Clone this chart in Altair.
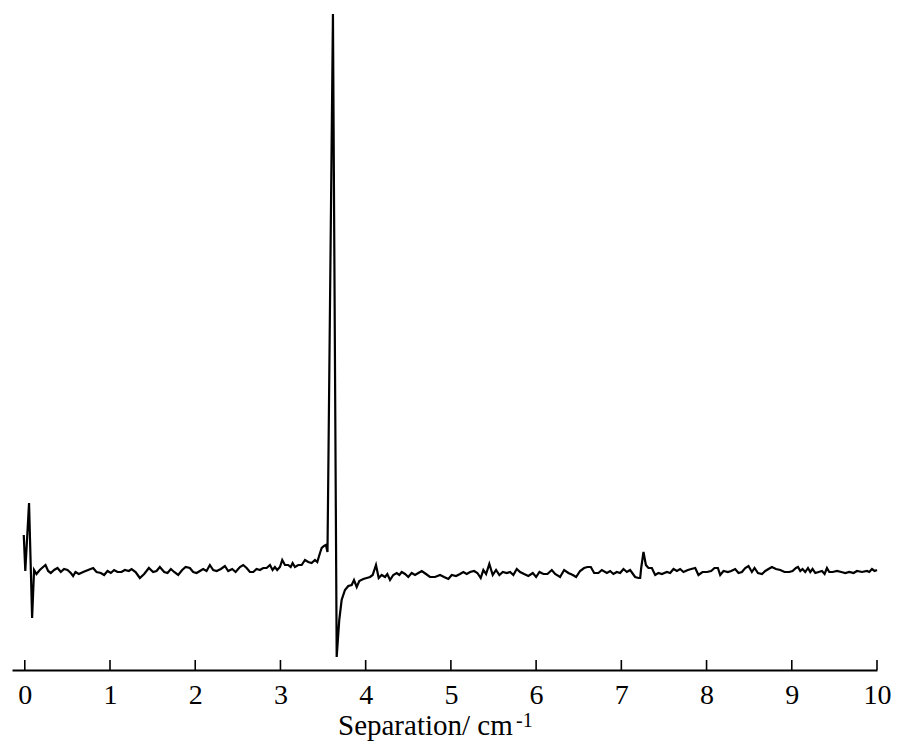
import altair as alt
import pandas as pd

# Separation (cm-1) and intensity (arbitrary units)
separation = [
    -0.012, 0.006, 0.050, 0.086, 0.109, 0.137, 0.176, 0.215, 0.243, 0.274,
    0.305, 0.344, 0.384, 0.423, 0.461, 0.501, 0.540, 0.567, 0.595, 0.634,
    0.685, 0.743, 0.802, 0.842, 0.892, 0.931, 0.971, 1.010, 1.048, 1.088,
    1.135, 1.174, 1.221, 1.253, 1.300, 1.350, 1.401, 1.456, 1.506, 1.546,
    1.585, 1.636, 1.675, 1.714, 1.753, 1.800, 1.847, 1.887, 1.937, 1.976,
    2.016, 2.055, 2.093, 2.133, 2.172, 2.211, 2.251, 2.301, 2.348, 2.387,
    2.434, 2.474, 2.524, 2.563, 2.603, 2.642, 2.681, 2.720, 2.759, 2.798,
    2.838, 2.877, 2.908, 2.935, 2.962, 2.994, 3.021, 3.053, 3.091, 3.120,
    3.143, 3.170, 3.209, 3.249, 3.288, 3.326, 3.366, 3.405, 3.432, 3.464,
    3.484, 3.511, 3.534, 3.552, 3.616, 3.660, 3.690, 3.718, 3.757, 3.796,
    3.836, 3.863, 3.895, 3.925, 3.972, 4.012, 4.051, 4.082, 4.121, 4.153,
    4.188, 4.227, 4.254, 4.286, 4.324, 4.364, 4.395, 4.423, 4.462, 4.500,
    4.540, 4.579, 4.618, 4.658, 4.708, 4.755, 4.814, 4.873, 4.920, 4.970,
    5.010, 5.060, 5.107, 5.146, 5.186, 5.225, 5.272, 5.311, 5.350, 5.381,
    5.413, 5.451, 5.491, 5.530, 5.569, 5.609, 5.656, 5.694, 5.733, 5.773,
    5.812, 5.859, 5.909, 5.961, 6.000, 6.039, 6.085, 6.133, 6.184, 6.223,
    6.281, 6.329, 6.379, 6.431, 6.469, 6.516, 6.563, 6.602, 6.642, 6.681,
    6.731, 6.771, 6.830, 6.869, 6.907, 6.947, 6.986, 7.025, 7.065, 7.103,
    7.162, 7.201, 7.221, 7.233, 7.260, 7.288, 7.318, 7.358, 7.397, 7.436,
    7.476, 7.534, 7.573, 7.612, 7.652, 7.690, 7.729, 7.781, 7.820, 7.867,
    7.905, 7.952, 8.004, 8.054, 8.093, 8.133, 8.160, 8.199, 8.250, 8.289,
    8.336, 8.375, 8.415, 8.454, 8.492, 8.532, 8.563, 8.603, 8.650, 8.689,
    8.727, 8.767, 8.814, 8.865, 8.915, 8.970, 9.009, 9.049, 9.073, 9.100,
    9.126, 9.158, 9.190, 9.217, 9.244, 9.276, 9.315, 9.354, 9.385, 9.413,
    9.440, 9.479, 9.531, 9.581, 9.628, 9.675, 9.725, 9.765, 9.824, 9.883,
    9.909, 9.941, 9.972, 10.000,
]
intensity = [
    135, 99, 167, 52, 100, 96, 100, 103, 105, 99,
    97, 100, 102, 98, 101, 100, 97, 94, 98, 96,
    98, 100, 102, 98, 97, 95, 99, 97, 100, 98,
    98, 100, 99, 101, 98, 92, 96, 102, 98, 99,
    103, 98, 97, 101, 98, 95, 100, 103, 102, 98,
    97, 99, 101, 99, 105, 100, 99, 101, 104, 99,
    101, 98, 103, 105, 102, 98, 98, 101, 100, 102,
    102, 105, 100, 103, 100, 103, 110, 105, 105, 103,
    107, 103, 105, 105, 110, 108, 107, 110, 108, 117,
    122, 124, 125, 118, 656, 13, 50, 70, 80, 84,
    85, 90, 83, 89, 91, 92, 93, 95, 105, 92,
    95, 93, 96, 90, 95, 97, 95, 98, 96, 93,
    97, 95, 97, 99, 96, 93, 93, 95, 93, 91,
    95, 94, 96, 98, 96, 98, 99, 97, 92, 100,
    96, 106, 95, 100, 95, 98, 97, 98, 95, 101,
    98, 96, 94, 97, 93, 98, 96, 96, 100, 96,
    93, 100, 97, 95, 93, 99, 102, 103, 103, 97,
    97, 100, 97, 99, 96, 98, 97, 101, 98, 100,
    93, 92, 92, 102, 118, 105, 102, 102, 95, 97,
    96, 98, 97, 101, 99, 101, 98, 100, 101, 102,
    95, 98, 98, 99, 102, 102, 95, 99, 98, 99,
    101, 97, 98, 102, 104, 98, 102, 97, 96, 99,
    101, 103, 101, 100, 98, 98, 99, 102, 103, 99,
    101, 98, 102, 98, 101, 97, 98, 99, 96, 102,
    98, 98, 99, 98, 97, 98, 97, 99, 98, 99,
    98, 101, 99, 100,
]
tick_values = [0, 1, 2, 3, 4, 5, 6, 7, 8, 9, 10]
title_text = ["Separation/ cm"]
title_sup_text = ["-1"]

df = pd.DataFrame({"sep": separation, "inten": intensity})
ticks_df = pd.DataFrame({"t": tick_values})
title_df = pd.DataFrame({"label": title_text})
sup_df = pd.DataFrame({"label": title_sup_text})

FONT = "Liberation Serif"

xscale = alt.Scale(domain=[-0.15, 10], nice=False, zero=False)
yscale = alt.Scale(domain=[0, 656], nice=False, zero=False)

line = alt.Chart(df).mark_line(color="black", strokeWidth=2.2).encode(
    x=alt.X(
        "sep:Q",
        scale=xscale,
        axis=alt.Axis(
            values=tick_values,
            ticks=False,
            grid=False,
            title=None,
            domainColor="black",
            domainWidth=2,
            labelFont=FONT,
            labelFontSize=28,
            labelColor="black",
            labelPadding=11,
            labelFlush=False,
            labelOverlap=False,
            format="d",
        ),
    ),
    y=alt.Y("inten:Q", scale=yscale, axis=None),
)

tick_marks = alt.Chart(ticks_df).mark_rule(color="black", strokeWidth=1.6).encode(
    x=alt.X("t:Q", scale=xscale),
    y=alt.value(656),
    y2=alt.value(646),
)

title_main = alt.Chart(title_df).mark_text(
    font=FONT, fontSize=29, align="left",
    baseline="alphabetic", color="black",
).encode(text="label:N", x=alt.value(326), y=alt.value(721))

title_sup = alt.Chart(sup_df).mark_text(
    font=FONT, fontSize=20, align="left",
    baseline="alphabetic", color="black",
).encode(text="label:N", x=alt.value(504), y=alt.value(713))

chart = alt.layer(line, tick_marks, title_main, title_sup).properties(
    width=865,
    height=656,
    autosize=alt.AutoSizeParams(type="none"),
    padding={"left": 12, "top": 14, "right": 21, "bottom": 81},
    background="white",
).configure_view(strokeWidth=0, stroke=None)

chart.save("out.html", embed_options={"renderer": "svg", "actions": False})
